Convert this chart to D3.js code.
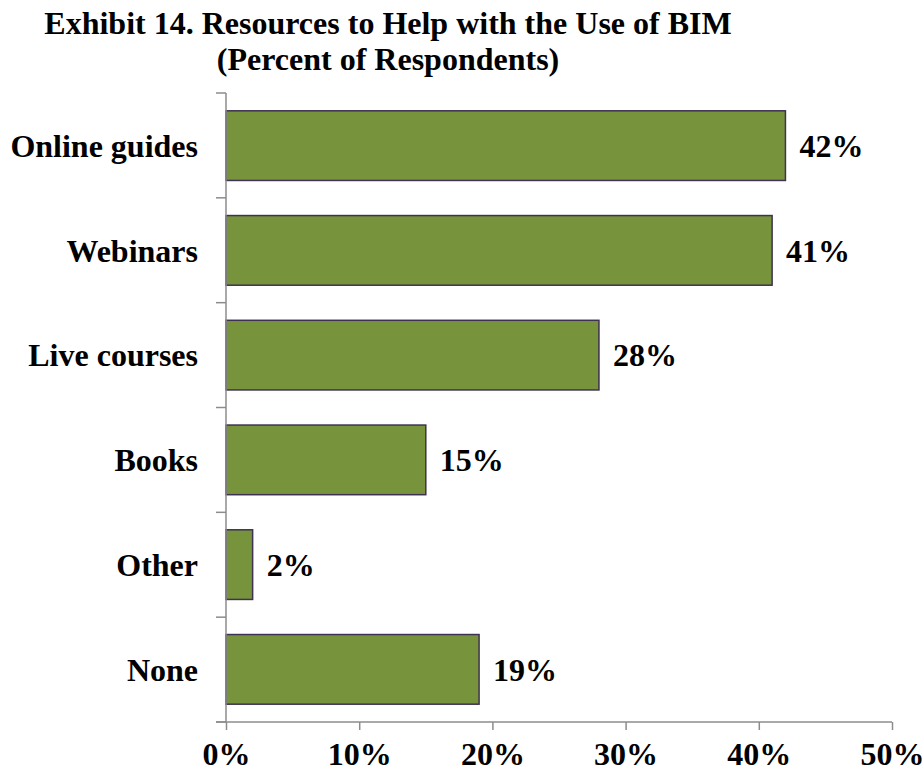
<!DOCTYPE html>
<html>
<head>
<meta charset="utf-8">
<script src="https://cdn.jsdelivr.net/npm/d3@7"></script>
<style>
  html, body { margin: 0; padding: 0; background: #fff; }
  svg text { font-family: "Liberation Serif", "Times New Roman", serif; font-weight: bold; fill: #000; }
</style>
</head>
<body>
<svg id="chart" width="924" height="772"></svg>
<script>
// Survey results: share of respondents naming each resource
const categories = ["Online guides", "Webinars", "Live courses", "Books", "Other", "None"];
const values = [42, 41, 28, 15, 2, 19];
const tickValues = [0, 10, 20, 30, 40, 50];
const titleLines = ["Exhibit 14. Resources to Help with the Use of BIM", "(Percent of Respondents)"];

const svg = d3.select("#chart");
const plotLeft = 226, plotRight = 892, plotTop = 93, plotBottom = 722;
const axisColor = "#8C8C8C";

const x = d3.scaleLinear().domain([0, 50]).range([plotLeft, plotRight]);
const y = d3.scaleBand().domain(categories).range([plotTop, plotBottom]).paddingInner(0.335).paddingOuter(0.17);

// Title
svg.append("g").selectAll("text")
  .data(titleLines)
  .join("text")
  .attr("x", 388)
  .attr("y", (d, i) => 34 + i * 36)
  .attr("text-anchor", "middle")
  .attr("font-size", 32)
  .text(d => d);

// Bars
svg.append("g").selectAll("rect")
  .data(values)
  .join("rect")
  .attr("x", x(0))
  .attr("y", (d, i) => y(categories[i]))
  .attr("width", d => x(d) - x(0))
  .attr("height", y.bandwidth())
  .attr("fill", "#77933C")
  .attr("stroke", "#3F3151")
  .attr("stroke-width", 1.5);

// Value labels
svg.append("g").selectAll("text")
  .data(values)
  .join("text")
  .attr("x", d => x(d) + 14)
  .attr("y", (d, i) => y(categories[i]) + y.bandwidth() / 2)
  .attr("dy", "0.35em")
  .attr("font-size", 32)
  .text(d => d + "%");

// Category axis: tick marks at band boundaries, labels at band centres
const yAxis = svg.append("g");
const boundaries = d3.range(categories.length + 1).map(i => plotTop + i * (plotBottom - plotTop) / categories.length);
yAxis.append("line")
  .attr("x1", plotLeft).attr("x2", plotLeft)
  .attr("y1", plotTop).attr("y2", plotBottom)
  .attr("stroke", axisColor).attr("stroke-width", 1.5);
yAxis.selectAll("line.tick")
  .data(boundaries)
  .join("line")
  .attr("class", "tick")
  .attr("x1", plotLeft - 10).attr("x2", plotLeft)
  .attr("y1", d => d).attr("y2", d => d)
  .attr("stroke", axisColor).attr("stroke-width", 1.5);
yAxis.selectAll("text")
  .data(categories)
  .join("text")
  .attr("x", 198)
  .attr("y", d => y(d) + y.bandwidth() / 2)
  .attr("dy", "0.35em")
  .attr("text-anchor", "end")
  .attr("font-size", 32)
  .text(d => d);

// Value axis
const xAxis = svg.append("g")
  .attr("transform", `translate(0,${plotBottom})`)
  .call(d3.axisBottom(x).tickValues(tickValues).tickFormat(d => d + "%").tickSize(8).tickSizeOuter(0));
xAxis.select(".domain").remove();
xAxis.append("line")
  .attr("x1", plotLeft - 10).attr("x2", plotRight)
  .attr("y1", 0).attr("y2", 0)
  .attr("stroke", axisColor).attr("stroke-width", 1.5);
xAxis.selectAll(".tick line").attr("stroke", axisColor).attr("stroke-width", 1.5);
xAxis.selectAll(".tick text")
  .attr("y", 43)
  .attr("dy", 0)
  .attr("font-size", 32)
  .attr("font-family", "Liberation Serif, Times New Roman, serif")
  .attr("font-weight", "bold")
  .attr("fill", "#000");
</script>
</body>
</html>
